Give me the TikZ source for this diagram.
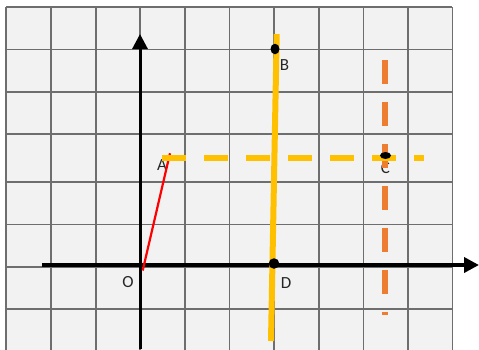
\documentclass[tikz,border=0pt]{standalone}
\usepackage{fontspec}
\setmainfont{Carlito}
\usetikzlibrary{arrows.meta,shapes.geometric}
\definecolor{bgc}{HTML}{F2F2F2}
\definecolor{gridc}{HTML}{6E6E6E}
\definecolor{yel}{HTML}{FFC000}
\definecolor{ora}{HTML}{ED7D31}
\definecolor{txt}{HTML}{262626}
\tikzset{
  gridline/.style={draw=gridc,line width=1.6pt},
  axisline/.style={draw=black,line width=3pt,-{Triangle[length=15pt,width=15pt]}},
  lbl/.style={inner sep=0pt,text=txt,font=\fontsize{17}{20}\selectfont},
  dotmark/.style={ellipse,fill=black,inner sep=0pt,minimum width=#1},
  yelline/.style={draw=yel,line width=6pt},
  oraline/.style={draw=ora,line width=6pt,dash pattern=on 24pt off 18pt},
}
\begin{document}
\begin{tikzpicture}[x=1pt,y=-1pt]
\useasboundingbox (0,0) rectangle (479,349);
\fill[white] (0,0) rectangle (479,349);
\fill[bgc] (6,7) rectangle (452.3,352);
% grid
\foreach \gx in {6,50.7,95.7,140,184.7,229.3,273.7,318.7,363.3,407.7,452.3}
  \draw[gridline] (\gx,7) -- (\gx,352);
\foreach \gy in {7,49.3,91.7,133.7,182,224.3,266.7,308.7}
  \draw[gridline] (6,\gy) -- (452.3,\gy);
% coordinates
\coordinate (yb) at (140,349);
\coordinate (yt) at (140,34);
\coordinate (xl) at (42,265);
\coordinate (xr) at (479,265);
\coordinate (o) at (142.7,270.5);
\coordinate (a) at (170,153.3);
\coordinate (btop) at (276.7,34);
\coordinate (dbot) at (271,341);
\coordinate (hl) at (162,158);
\coordinate (hr) at (424,158);
\coordinate (vt) at (385,60);
\coordinate (vb) at (385,315);
% labels
\node[lbl] (lO) at (128,282) {O};
\node[lbl] (lA) at (162,165.5) {A};
\node[lbl] (lB) at (284.5,65) {B};
\node[lbl] (lC) at (385.5,168) {C};
\node[lbl] (lD) at (286,283.5) {D};
% axes
\draw[axisline] (yb) -- (yt);
\draw[axisline,line width=3.6pt] (xl) -- (xr);
% lines
\draw[red,line width=2.2pt] (o) -- (a);
\draw[yelline] (btop) -- (dbot);
\draw[oraline] (vt) -- (vb);
\draw[yelline,dash pattern=on 24pt off 18pt] (hl) -- (hr);
% points
\node[dotmark=9pt,minimum height=10.5pt] (B) at (275,49) {};
\node[dotmark=10.5pt,minimum height=10.5pt] (D) at (274,263.5) {};
\node[dotmark=11pt,minimum height=7pt] (C) at (385.5,155.5) {};
\end{tikzpicture}
\end{document}
